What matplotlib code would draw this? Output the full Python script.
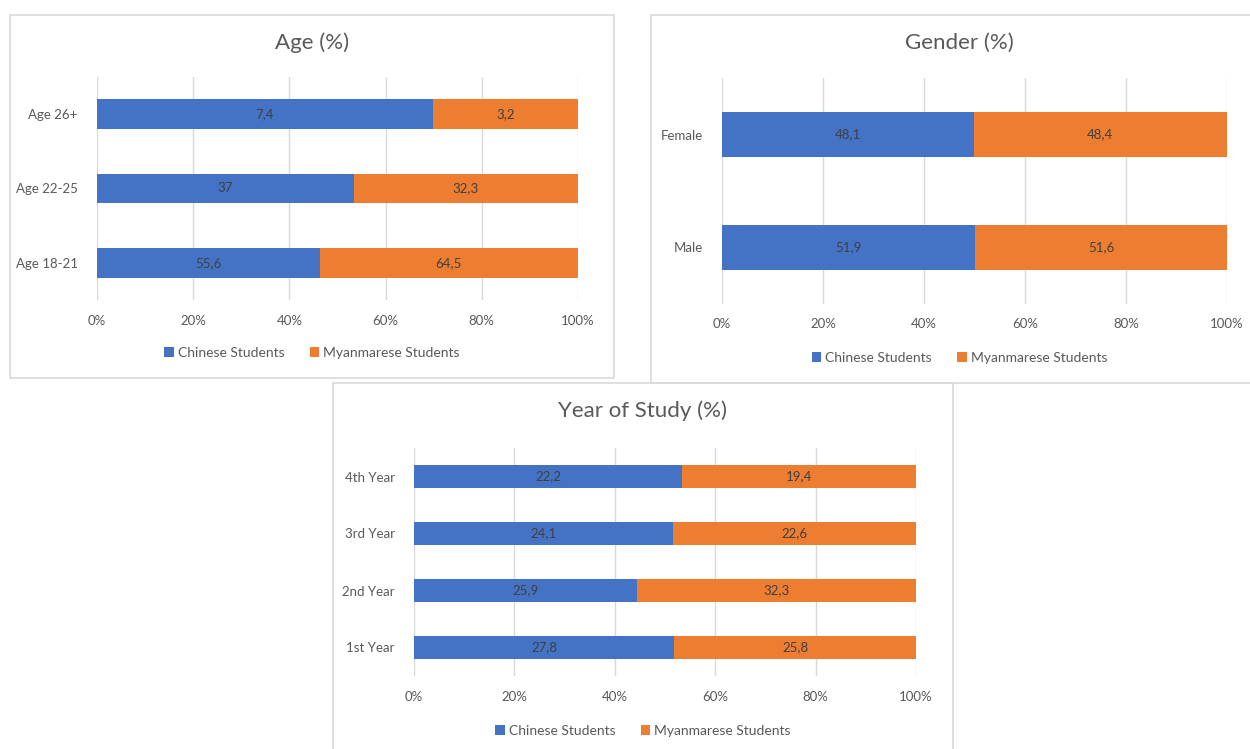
import matplotlib
matplotlib.use("Agg")
import matplotlib.pyplot as plt
from matplotlib.patches import Rectangle

plt.rcParams['font.family'] = ['Lato', 'DejaVu Sans']

W, H = 1250, 749

# survey results (percent within each group)
series_names = ["Chinese Students", "Myanmarese Students"]

age_labels = ["Age 18-21", "Age 22-25", "Age 26+"]
age_chinese = [55.6, 37, 7.4]
age_myanmar = [64.5, 32.3, 3.2]

gender_labels = ["Male", "Female"]
gender_chinese = [51.9, 48.1]
gender_myanmar = [51.6, 48.4]

year_labels = ["1st Year", "2nd Year", "3rd Year", "4th Year"]
year_chinese = [27.8, 25.9, 24.1, 22.2]
year_myanmar = [25.8, 32.3, 22.6, 19.4]

tick_labels = ["0%", "20%", "40%", "60%", "80%", "100%"]

BLUE = "#4472C4"
ORANGE = "#ED7D31"
GRID = "#D9D9D9"
TEXT = "#595959"
LABEL = "#404040"


def px_box(x0, y0, x1, y1):
    # pixel box (top-left origin) -> figure fraction [left, bottom, width, height]
    return [x0 / W, 1 - y1 / H, (x1 - x0) / W, (y1 - y0) / H]


def fmt(v):
    s = ("%g" % v)
    return s.replace(".", ",")


def panel(fig, frame, plot, title, title_y, labels, a, b, tick_y, legend_y):
    fx0, fy0, fx1, fy1 = frame
    l, bt, w, h = px_box(fx0, fy0, fx1, fy1)
    fig.patches.append(Rectangle((l, bt), w, h, transform=fig.transFigure,
                                 fill=False, edgecolor=GRID, lw=1.2, zorder=0))

    ax = fig.add_axes(px_box(*plot))
    n = len(labels)
    ys = list(range(n))
    tot = [x + y for x, y in zip(a, b)]
    pa = [x / t * 100 for x, t in zip(a, tot)]
    pb = [y / t * 100 for y, t in zip(b, tot)]
    ax.barh(ys, pa, height=0.4, color=BLUE, label=series_names[0], zorder=3)
    ax.barh(ys, pb, left=pa, height=0.4, color=ORANGE, label=series_names[1], zorder=3)
    for i in ys:
        ax.text(pa[i] / 2, i, fmt(a[i]), ha="center", va="center",
                fontsize=9.5, color=LABEL, zorder=4)
        ax.text(pa[i] + pb[i] / 2, i, fmt(b[i]), ha="center", va="center",
                fontsize=9.5, color=LABEL, zorder=4)

    ax.set_xlim(0, 100)
    ax.set_ylim(-0.5, n - 0.5)
    ax.set_xticks(range(0, 101, 20))
    ax.set_xticklabels(tick_labels)
    ax.set_yticks(ys)
    ax.set_yticklabels(labels)
    ax.grid(axis="x", color=GRID, lw=1, zorder=0)
    ax.set_axisbelow(True)
    for s in ax.spines.values():
        s.set_visible(False)
    ax.tick_params(length=0, labelsize=9.5, labelcolor=TEXT)
    ax.tick_params(axis="y", pad=14)
    pad_x = tick_y - plot[3]
    ax.tick_params(axis="x", pad=pad_x - 10)

    # title and legend sit centred on the whole chart box
    cx = (fx0 + fx1) / 2
    fig.text(cx / W, 1 - title_y / H, title, ha="center", va="center",
             fontsize=16, color=TEXT)
    ax.legend(loc="center", bbox_to_anchor=(cx / W, 1 - legend_y / H),
              bbox_transform=fig.transFigure, ncol=2, frameon=False,
              fontsize=10, labelcolor=TEXT, handlelength=0.7, handleheight=0.7,
              handletextpad=0.3, columnspacing=1.8)
    return ax


fig = plt.figure(figsize=(W / 100, H / 100), dpi=100)
fig.patch.set_facecolor("white")

panel(fig, (10, 15, 614, 378), (97, 77, 578, 300), "Age (%)", 43,
      age_labels, age_chinese, age_myanmar, 321, 353)
panel(fig, (651, 15, 1268, 383), (722, 78, 1227, 304), "Gender (%)", 43,
      gender_labels, gender_chinese, gender_myanmar, 324, 358)
panel(fig, (333, 383, 953, 760), (414, 448, 916, 676), "Year of Study (%)", 411,
      year_labels, year_chinese, year_myanmar, 697, 731)

fig.savefig("out.png", dpi=100)
